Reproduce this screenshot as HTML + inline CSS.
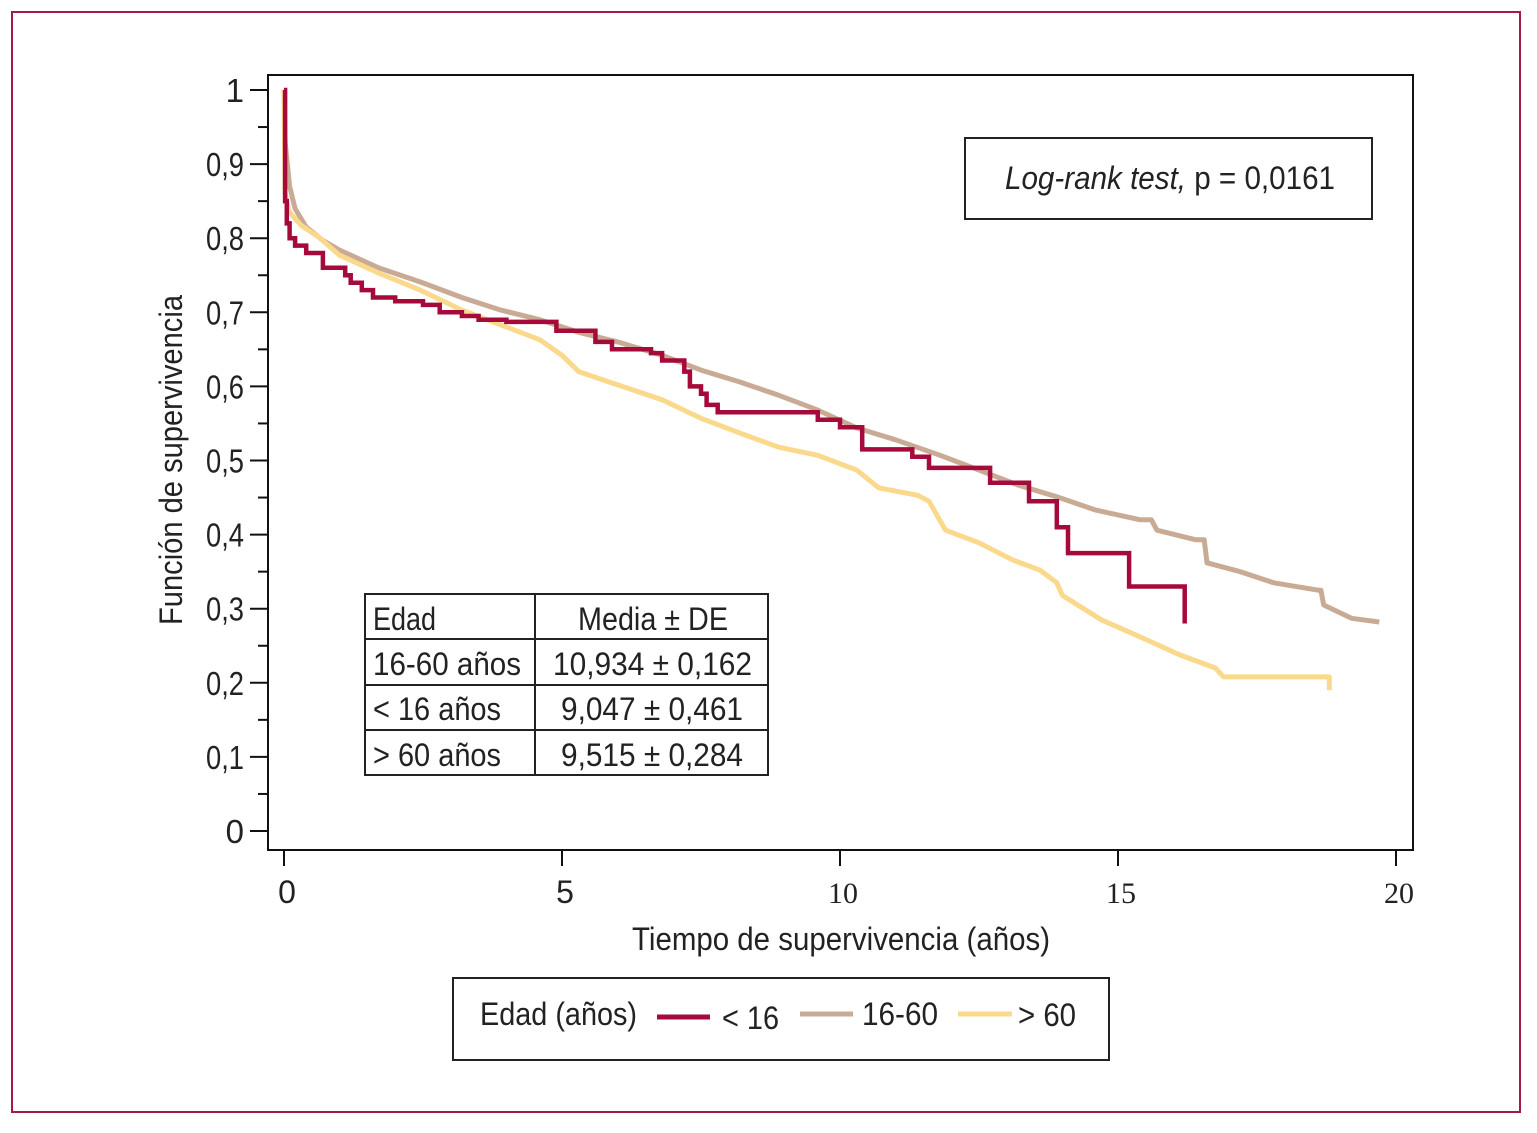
<!DOCTYPE html>
<html><head><meta charset="utf-8">
<style>
html,body{margin:0;padding:0;background:#fff;}
svg{display:block;}
text{font-family:"Liberation Sans Narrow","Liberation Sans",sans-serif;fill:#222;}
</style></head>
<body>
<svg id="chart" width="1537" height="1133" xmlns="http://www.w3.org/2000/svg">
<rect x="12" y="12" width="1508" height="1100" fill="none" stroke="#a3194a" stroke-width="2"/>
<rect x="268" y="75" width="1145" height="775" fill="none" stroke="#111" stroke-width="2"/>
<g id="yaxis"></g>
<g id="xaxis"></g>
<g id="series"></g>
<text x="182" y="460" font-size="32" text-anchor="middle" textLength="330" lengthAdjust="spacingAndGlyphs" transform="rotate(-90 182 460)">Función de supervivencia</text>
<text x="841" y="950" font-size="32" text-anchor="middle" textLength="418" lengthAdjust="spacingAndGlyphs">Tiempo de supervivencia (años)</text>
<g>
<rect x="965" y="138" width="407" height="81" fill="#fff" stroke="#222" stroke-width="2"/>
<text x="1005" y="189" font-size="32" textLength="330" lengthAdjust="spacingAndGlyphs"><tspan font-style="italic">Log-rank test,</tspan> p = 0,0161</text>
</g>
<g>
<rect x="365" y="594" width="403" height="181" fill="#fff" stroke="#222" stroke-width="2"/>
<line x1="535" y1="594" x2="535" y2="775" stroke="#222" stroke-width="2"/>
<line x1="365" y1="639" x2="768" y2="639" stroke="#222" stroke-width="2"/>
<line x1="365" y1="685" x2="768" y2="685" stroke="#222" stroke-width="2"/>
<line x1="365" y1="730" x2="768" y2="730" stroke="#222" stroke-width="2"/>
<text x="373" y="630" font-size="32" textLength="63" lengthAdjust="spacingAndGlyphs">Edad</text>
<text x="578" y="630" font-size="32" textLength="150" lengthAdjust="spacingAndGlyphs">Media ± DE</text>
<text x="373" y="675" font-size="32" textLength="148" lengthAdjust="spacingAndGlyphs">16-60 años</text>
<text x="553" y="675" font-size="32" textLength="199" lengthAdjust="spacingAndGlyphs">10,934 ± 0,162</text>
<text x="373" y="720" font-size="32" textLength="128" lengthAdjust="spacingAndGlyphs">&lt; 16 años</text>
<text x="561" y="720" font-size="32" textLength="182" lengthAdjust="spacingAndGlyphs">9,047 ± 0,461</text>
<text x="373" y="766" font-size="32" textLength="128" lengthAdjust="spacingAndGlyphs">&gt; 60 años</text>
<text x="561" y="766" font-size="32" textLength="182" lengthAdjust="spacingAndGlyphs">9,515 ± 0,284</text>
</g>
<g>
<rect x="453" y="978" width="656" height="82" fill="#fff" stroke="#222" stroke-width="2"/>
<text x="480" y="1025" font-size="32" textLength="157" lengthAdjust="spacingAndGlyphs">Edad (años)</text>
<line x1="657" y1="1017" x2="710" y2="1017" stroke="#a50a3a" stroke-width="5"/>
<text x="722" y="1029" font-size="32" textLength="57" lengthAdjust="spacingAndGlyphs">&lt; 16</text>
<line x1="800" y1="1014" x2="853" y2="1014" stroke="#c9ab95" stroke-width="5"/>
<text x="862" y="1025" font-size="32" textLength="76" lengthAdjust="spacingAndGlyphs">16-60</text>
<line x1="958" y1="1014" x2="1012" y2="1014" stroke="#fbd98c" stroke-width="5"/>
<text x="1018" y="1026" font-size="32" textLength="58" lengthAdjust="spacingAndGlyphs">&gt; 60</text>
</g>
</svg>
<script>
const yTicks = [0,0.1,0.2,0.3,0.4,0.5,0.6,0.7,0.8,0.9,1];
const yTickLabels = ["0","0,1","0,2","0,3","0,4","0,5","0,6","0,7","0,8","0,9","1"];
const xTicks = [0,5,10,15,20];
const xTickLabels = ["0","5","10","15","20"];
const redT = [0,0.02,0.05,0.1,0.2,0.4,0.7,1.1,1.2,1.4,1.6,2.0,2.5,2.8,3.2,3.5,4.0,4.9,5.6,5.9,6.6,6.8,7.2,7.3,7.5,7.6,7.8,9.6,10.0,10.4,11.3,11.6,12.7,13.4,13.9,14.1,15.2,16.2];
const redS = [1,0.85,0.82,0.80,0.79,0.78,0.76,0.75,0.74,0.73,0.72,0.715,0.71,0.70,0.695,0.69,0.687,0.675,0.66,0.65,0.645,0.635,0.62,0.60,0.59,0.575,0.565,0.555,0.545,0.515,0.505,0.49,0.47,0.445,0.41,0.375,0.33,0.28];
const tanT = [0,0.02,0.1,0.2,0.4,0.7,1.0,1.7,2.45,3.2,3.9,4.6,5.3,6.0,6.8,7.5,8.2,8.9,9.6,10.3,11.0,11.8,12.5,13.2,13.9,14.6,15.4,15.6,15.7,16.4,16.55,16.6,17.2,17.8,18.6,18.65,18.7,19.2,19.7];
const tanS = [1,0.93,0.87,0.84,0.815,0.797,0.784,0.76,0.741,0.72,0.703,0.69,0.673,0.66,0.642,0.622,0.606,0.588,0.568,0.544,0.528,0.507,0.487,0.467,0.451,0.433,0.42,0.42,0.406,0.393,0.393,0.362,0.35,0.335,0.325,0.325,0.305,0.287,0.282];
const yelT = [0,0.02,0.1,0.3,0.65,1.0,1.7,2.45,3.2,3.9,4.6,5.0,5.3,6.0,6.8,7.5,8.2,8.9,9.6,10.3,10.7,11.4,11.6,11.9,12.5,13.1,13.6,13.9,14.0,14.7,15.4,16.1,16.75,16.9,18.8,18.8];
const yelS = [1,0.86,0.835,0.818,0.80,0.777,0.753,0.73,0.703,0.683,0.663,0.642,0.62,0.602,0.582,0.557,0.537,0.518,0.507,0.487,0.463,0.453,0.445,0.406,0.389,0.366,0.352,0.335,0.318,0.285,0.262,0.238,0.22,0.208,0.208,0.19];

const NS='http://www.w3.org/2000/svg';
function X(t){return 284 + t*55.6;}
function Y(s){return 831 - s*741;}
function mk(tag,attrs,parent){const e=document.createElementNS(NS,tag);for(const k in attrs)e.setAttribute(k,attrs[k]);parent.appendChild(e);return e;}

const ya=document.getElementById('yaxis');
yTicks.forEach((v,i)=>{
  const l=mk('line',{x1:250,x2:268,y1:Y(v),y2:Y(v),stroke:'#111','stroke-width':2},ya);
  
  
  const lab=yTickLabels[i];
  const t=mk('text',{x:244,y:Y(v)+12,'font-size':33,'text-anchor':'end'},ya);
  if(lab.length>1){t.setAttribute('textLength','38');t.setAttribute('lengthAdjust','spacingAndGlyphs');}
  t.textContent=lab;
  
  
  if(i<yTicks.length-1){
    const m=mk('line',{x1:258,x2:268,y1:Y(v+0.05),y2:Y(v+0.05),stroke:'#111','stroke-width':2},ya);
    
    
  }
});
const xa=document.getElementById('xaxis');
xTicks.forEach((v,i)=>{
  const l=mk('line',{x1:X(v),x2:X(v),y1:850,y2:866,stroke:'#111','stroke-width':2},xa);
  
  
  const t=mk('text',{x:X(v)+3,y:903,'font-size':32,'text-anchor':'middle'},xa);
  if(v>=10) t.setAttribute('style','font-family:"Liberation Serif",serif;font-size:30px');
  t.textContent=xTickLabels[i];
  
  
});
function stepPath(T,S){
  let d='M'+X(T[0]).toFixed(1)+','+Y(S[0]).toFixed(1);
  for(let i=1;i<T.length;i++){
    d+=' H'+X(T[i]).toFixed(1)+' V'+Y(S[i]).toFixed(1);
  }
  return d;
}
function linePath(T,S){
  let d='M'+X(T[0]).toFixed(1)+','+Y(S[0]).toFixed(1);
  for(let i=1;i<T.length;i++){
    d+=' L'+X(T[i]).toFixed(1)+','+Y(S[i]).toFixed(1);
  }
  return d;
}
const sg=document.getElementById('series');
const p1=mk('path',{d:linePath(tanT,tanS),fill:'none',stroke:'#c9ab95','stroke-width':5,'stroke-linejoin':'round'},sg);


const p2=mk('path',{d:linePath(yelT,yelS),fill:'none',stroke:'#fbd98c','stroke-width':5,'stroke-linejoin':'round'},sg);


const p3=mk('path',{d:stepPath(redT,redS),fill:'none',stroke:'#a50a3a','stroke-width':4.5},sg);


</script>
</body></html>
